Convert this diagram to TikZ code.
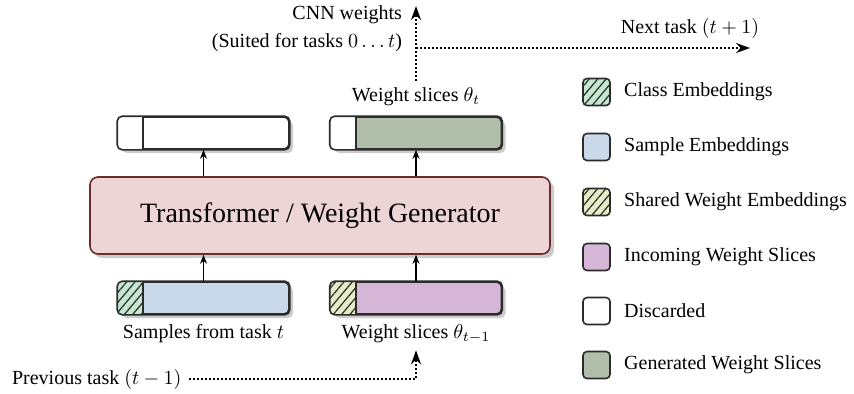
\documentclass[tikz,border=0pt]{standalone}
\usepackage{fontspec}
\setmainfont{Liberation Serif}
\usetikzlibrary{positioning,shadows,patterns.meta,arrows.meta}

\definecolor{clsgreen}{HTML}{C5E8D1}
\definecolor{smpblue}{HTML}{C9D9EA}
\definecolor{shrdyellow}{HTML}{E6ECC5}
\definecolor{incpurple}{HTML}{D5B6D6}
\definecolor{gengreen}{HTML}{B1BFAA}
\definecolor{tfpink}{HTML}{EDD4D5}
\definecolor{tfborder}{HTML}{6B2C2F}
\definecolor{edge}{HTML}{2B2B2B}

\tikzset{
  bar/.style={draw=edge, line width=0.8pt, rounded corners=2.5pt, minimum width=85.5pt, minimum height=16pt, inner sep=0pt,
    drop shadow={shadow xshift=2pt, shadow yshift=-2pt, fill=black!20, opacity=1}},
  tfbox/.style={draw=tfborder, fill=tfpink, line width=0.8pt, rounded corners=4pt, minimum width=230pt, minimum height=38.5pt,
    font=\fontsize{14}{16}\selectfont, drop shadow={shadow xshift=2pt, shadow yshift=-2pt, fill=black!20, opacity=1}},
  legbox/.style={draw=edge, line width=0.8pt, rounded corners=2pt, minimum width=13.5pt, minimum height=13.5pt, inner sep=0pt},
  legtext/.style={inner sep=0pt},
  hatch/.style={postaction={pattern={Lines[angle=50,distance=3.2pt,line width=0.6pt]}, pattern color=edge}},
  plainhead/.style={fill=white},
  clshead/.style={fill=clsgreen, hatch},
  shrdhead/.style={fill=shrdyellow, hatch},
  link/.style={-{Stealth[length=4.5pt,width=3.5pt]}, line width=0.8pt},
  flow/.style={-{Stealth[length=7pt,width=5pt]}, line width=1pt, densely dotted},
}

\begin{document}
\begin{tikzpicture}[x=0.5pt, y=-0.5pt]
\useasboundingbox (0,0) rectangle (854,393);

% generator
\node[tfbox] (gen) at (320,215.5) {Transformer / Weight Generator};

% output and input bars
\node[bar, fill=white] (outL) at (203.5,133) {};
\node[bar, fill=gengreen] (outR) at (416,133) {};
\node[bar, fill=smpblue] (inL) at (203.5,298) {};
\node[bar, fill=incpurple] (inR) at (416,298) {};

\foreach \b/\hs in {outL/plainhead, outR/plainhead, inL/clshead, inR/shrdhead} {
  \begin{scope}
    \clip[rounded corners=2.5pt] (\b.south west) rectangle (\b.north east);
    \path[\hs] (\b.south west) rectangle ([xshift=13pt]\b.north west);
  \end{scope}
  \draw[edge, line width=0.8pt] ([xshift=13pt]\b.north west) -- ([xshift=13pt]\b.south west); % divider
  \draw[edge, line width=0.8pt, rounded corners=2.5pt] (\b.south west) rectangle (\b.north east);
}

% labels
\node (lblSmp) at (203.5,334) {Samples from task $t$};
\node (lblIn) at (416,334) {Weight slices $\theta_{t-1}$};
\node (lblOut) at (416,97) {Weight slices $\theta_t$};
\node[anchor=east] (cnnTxt) at (409,15) {CNN weights};
\node[anchor=east] (suitTxt) at (409,43) {(Suited for tasks $0\dots t$)};
\node (nextTxt) at (690,28) {Next task $(t+1)$};
\node[anchor=west] (prevTxt) at (5,379) {Previous task $(t-1)$};

\coordinate (cnnTip) at (416,6);
\coordinate (branch) at (416,48);
\coordinate (nextTip) at (750,48);

% arrows through the generator
\draw[link] (inL.north) -- (inL.north |- gen.south);
\draw[link] (inR.north) -- (inR.north |- gen.south);
\draw[link] (gen.north -| outL) -- (outL.south);
\draw[link] (gen.north -| outR) -- (outR.south);

% task flow
\draw[flow] (lblOut.north) -- (cnnTip);
\draw[flow] (branch) -- (nextTip);
\draw[flow] (prevTxt.east) -| (lblIn.south);

% legend
\node[legbox, fill=clsgreen, hatch] (lgCls) at (596.5,92) {};
\node[legtext, right=6.5pt of lgCls] (lgClsTxt) {Class Embeddings};
\node[legbox, fill=smpblue] (lgSmp) at (596.5,147) {};
\node[legtext, right=6.5pt of lgSmp] (lgSmpTxt) {Sample Embeddings};
\node[legbox, fill=shrdyellow, hatch] (lgShrd) at (596.5,202) {};
\node[legtext, right=6.5pt of lgShrd] (lgShrdTxt) {Shared Weight Embeddings};
\node[legbox, fill=incpurple] (lgInc) at (596.5,257) {};
\node[legtext, right=6.5pt of lgInc] (lgIncTxt) {Incoming Weight Slices};
\node[legbox, fill=white] (lgDis) at (596.5,311) {};
\node[legtext, right=6.5pt of lgDis] (lgDisTxt) {Discarded};
\node[legbox, fill=gengreen] (lgGen) at (596.5,365) {};
\node[legtext, right=6.5pt of lgGen] (lgGenTxt) {Generated Weight Slices};
\end{tikzpicture}
\end{document}
